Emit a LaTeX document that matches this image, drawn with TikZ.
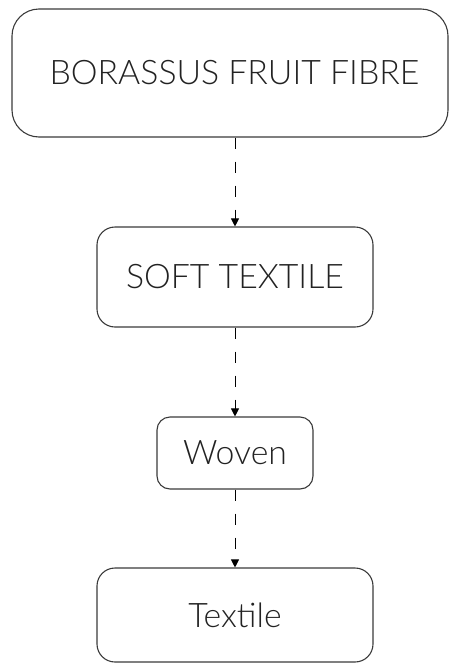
\documentclass[tikz,border=0pt]{standalone}
\usepackage{fontspec}
\setmainfont{Lato}[UprightFont={* Light}]
\usetikzlibrary{arrows.meta}
\definecolor{linec}{HTML}{3A3A3A}
\definecolor{textc}{HTML}{222222}
\tikzset{
  boxnode/.style={draw=linec, line width=1.1pt, text=textc, font=\fontsize{33.8}{36}\selectfont, inner sep=0pt},
  flow/.style={draw=black, line width=0.9pt, dash pattern=on 11pt off 13pt, -{Triangle[width=8pt,length=8pt]}}
}
\begin{document}
\begin{tikzpicture}[x=1pt,y=1pt]
\useasboundingbox (0,0) rectangle (449,-664);
\node[boxnode, rounded corners=27pt, minimum width=436pt, minimum height=128pt] (b1) at (230,-73) {\hspace*{9pt}BORASSUS FRUIT FIBRE};
\node[boxnode, rounded corners=18pt, minimum width=276pt, minimum height=100pt] (b2) at (235,-277) {SOFT TEXTILE};
\node[boxnode, rounded corners=13pt, minimum width=156pt, minimum height=72pt] (b3) at (235,-453) {Woven};
\node[boxnode, rounded corners=18pt, minimum width=276pt, minimum height=94pt] (b4) at (235,-615) {Textile};
\draw[flow] (b2.north |- b1.south) -- (b2.north);
\draw[flow] (b2.south) -- (b3.north);
\draw[flow] (b3.south) -- (b4.north);
\end{tikzpicture}
\end{document}
